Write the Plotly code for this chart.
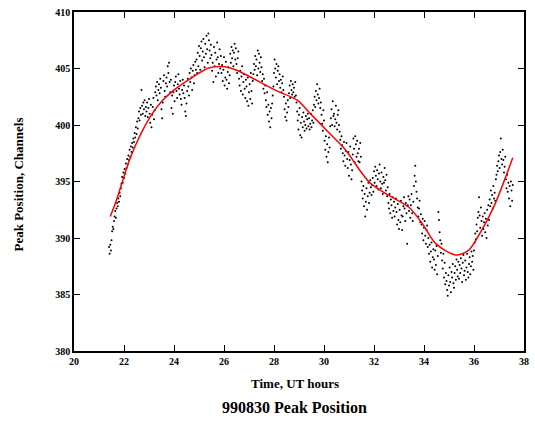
import numpy as np
import plotly.graph_objects as go

# Sampling of the peak-position measurements (regular cadence)
t_start = 21.40
t_step = 0.025

# Peak position values (channels), 20 per half hour
peak_values = [
    389.2, 388.6, 389.4, 388.9, 389.8, 390.6, 391.0, 390.8, 391.5, 391.9, 392.4, 391.8, 392.6, 393.1, 392.8, 393.5, 393.2, 394.0, 393.7, 394.4,
    394.8, 395.4, 394.9, 395.8, 395.3, 396.1, 395.7, 396.6, 396.2, 397.0, 396.5, 397.3, 396.9, 397.8, 397.2, 398.1, 397.6, 398.4, 398.0, 398.8,
    398.5, 399.3, 398.9, 399.8, 399.2, 400.3, 399.7, 400.6, 401.2, 400.4, 401.5, 400.9, 403.1, 401.7, 401.0, 402.0, 401.4, 402.2, 400.8, 401.6,
    401.2, 402.0, 400.7, 401.5, 402.3, 401.0, 400.2, 401.8, 399.8, 400.9, 401.6, 402.4, 400.5, 401.3, 402.9, 403.4, 402.6, 403.8, 402.2, 403.1,
    403.6, 402.8, 404.1, 403.3, 401.4, 400.6, 402.0, 403.9, 404.4, 403.0, 402.5, 403.7, 404.2, 403.4, 405.2, 404.6, 405.5, 403.8, 402.9, 404.0,
    401.5, 402.6, 401.0, 402.9, 403.5, 402.1, 403.8, 404.3, 403.0, 402.4, 403.6, 404.5, 403.2, 402.7, 403.9, 402.3, 401.8, 403.1, 404.0, 402.8,
    403.5, 402.4, 401.2, 400.8, 401.9, 403.0, 404.1, 403.4, 402.6, 404.6, 403.8, 405.0, 404.2, 403.1, 404.8, 405.3, 403.7, 404.4, 405.6, 404.9,
    405.8, 404.6, 406.4, 405.2, 407.0, 406.1, 404.9, 406.8, 407.4, 405.7, 406.5, 407.6, 406.0, 405.1, 407.2, 406.3, 407.9, 406.7, 405.5, 408.1,
    407.5, 406.6, 405.9, 407.1, 406.2, 404.8, 405.5, 403.8, 406.9, 405.2, 406.4, 404.3, 405.8, 407.3, 406.0, 404.6, 405.4, 406.7, 405.0, 406.1,
    404.6, 405.3, 403.9, 404.9, 406.0, 403.5, 404.2, 405.6, 404.0, 403.2, 404.7, 405.1, 403.7, 404.4, 406.3, 405.5, 406.9, 405.9, 406.6, 405.2,
    406.4, 407.2, 405.8, 406.8, 405.4, 404.6, 405.9, 406.5, 404.1, 403.5, 404.8, 403.0, 404.3, 405.2, 402.7, 403.8, 404.5, 403.2, 402.4, 404.0,
    403.4, 402.1, 404.2, 401.7, 402.9, 403.6, 402.3, 404.6, 403.0, 401.9, 403.9, 404.5, 405.4, 404.9, 406.1, 405.2, 405.8, 404.4, 406.6, 405.0,
    406.3, 405.5, 404.7, 406.0, 405.1, 403.9, 404.5, 403.2, 404.1, 402.8, 403.5, 402.2, 401.6, 402.9, 400.9, 401.8, 400.3, 401.2, 399.8, 401.5,
    400.6, 401.9, 402.6, 403.4, 404.6, 405.8, 405.0, 404.2, 405.4, 403.6, 404.8, 405.2, 403.9, 404.5, 403.3, 404.0, 402.9, 403.7, 404.3, 403.1,
    402.5, 401.4, 400.7, 401.9, 400.4, 401.1, 402.2, 401.6, 402.8, 403.5, 402.4, 403.9, 403.1, 402.7, 403.6, 402.9, 403.3, 402.5, 403.8, 402.6,
    402.0, 401.2, 400.4, 399.6, 400.9, 401.5, 399.1, 400.2, 398.9, 400.7, 399.8, 401.1, 400.3, 399.5, 400.0, 400.8, 399.7, 400.5, 401.0, 399.9,
    400.6, 399.6, 400.1, 401.0, 399.8, 400.4, 401.3, 400.2, 401.8, 402.5, 401.6, 403.0, 402.2, 403.6, 402.7, 401.9, 402.4, 403.2, 401.5, 402.0,
    400.9, 400.1, 399.5, 401.3, 400.4, 398.6, 397.8, 399.0, 397.2, 398.3, 396.7, 397.6, 398.9, 398.0, 399.9, 400.6, 401.4, 400.0, 402.1, 400.8,
    401.0, 399.9, 400.5, 401.7, 400.2, 399.6, 400.9, 401.3, 400.0, 399.4, 398.7, 397.9, 399.0, 398.2, 397.5, 396.8, 398.5, 397.3, 396.4, 397.7,
    398.4, 397.0, 396.2, 397.6, 395.5, 396.9, 398.1, 396.5, 395.2, 396.0, 397.4, 398.8, 397.9, 396.7, 399.0, 398.3, 397.2, 398.6, 397.5, 396.8,
    397.9, 396.7, 398.4, 397.2, 395.0, 394.2, 393.5, 394.6, 392.8, 393.9, 391.9, 393.2, 394.4, 392.5, 393.7, 394.9, 393.1, 394.0, 395.1, 394.5,
    393.8, 394.7, 395.3, 394.1, 395.9, 394.9, 396.3, 395.5, 394.6, 396.0, 395.2, 394.3, 395.7, 396.5, 395.0, 394.4, 395.8, 394.8, 393.9, 395.4,
    394.9, 396.2, 395.1, 394.2, 395.6, 393.7, 394.5, 393.1, 392.6, 393.9, 392.2, 393.4, 392.9, 391.8, 393.6, 392.4, 393.2, 391.9, 392.7, 393.5,
    392.3, 391.2, 393.0, 391.6, 390.8, 392.5, 391.4, 393.3, 392.0, 390.7, 391.9, 392.8, 393.6, 392.6, 391.5, 393.1, 392.2, 389.5, 392.9, 393.7,
    392.4, 393.4, 391.8, 392.9, 393.9, 392.2, 391.5, 393.2, 394.6, 395.5, 396.4, 395.0, 394.1, 393.5, 392.7, 391.9, 392.6, 393.3, 391.4, 392.1,
    391.2, 390.4, 391.7, 389.8, 390.9, 391.5, 390.2, 389.5, 390.7, 391.1, 389.2, 390.0, 388.6, 389.4, 387.9, 388.8, 389.6, 387.4, 388.3, 389.0,
    388.1, 387.2, 388.9, 387.6, 389.3, 386.8, 388.4, 392.3, 391.6, 390.5, 389.8, 388.7, 389.5, 388.0, 387.3, 388.6, 386.5, 387.8, 385.9, 386.9,
    386.2, 385.4, 384.9, 386.7, 385.8, 387.4, 386.1, 385.2, 387.0, 386.5, 387.7, 386.0, 385.6, 386.9, 387.5, 386.3, 388.1, 387.2, 386.6, 387.9,
    386.4, 387.6, 386.9, 388.2, 387.3, 386.1, 387.8, 388.5, 386.7, 387.1, 388.0, 386.3, 387.4, 388.6, 387.0, 386.5, 387.7, 388.3, 386.8, 387.5,
    388.8, 387.9, 388.4, 387.2, 388.9, 389.6, 390.4, 389.9, 391.2, 390.6, 391.8, 392.3, 393.6, 392.0, 390.9, 392.7, 391.5, 390.2, 391.9, 390.8,
    391.4, 392.2, 390.5, 391.7, 390.0, 392.5, 391.1, 392.9, 391.6, 393.4, 392.8, 394.2, 393.1, 393.8, 392.6, 394.6, 393.5, 394.0, 393.3, 395.2,
    395.6, 396.4, 395.9, 396.8, 397.3, 396.2, 397.6, 398.8, 397.0, 396.5, 397.8, 396.9, 395.8, 396.3, 397.2, 395.2, 394.4, 395.6, 394.1, 394.9,
    393.5, 394.6, 392.8, 395.0, 394.2, 393.3, 394.7,
]

# Smooth fit curve (red)
fit_t = [21.45, 21.69, 21.95, 22.21, 22.48, 22.74, 23.13, 23.53, 24.06, 24.72, 25.38,
         26.04, 26.56, 27.35, 28.14, 28.93, 29.46, 30.12, 30.78, 31.17, 31.43, 31.83,
         32.49, 33.41, 33.94, 34.47, 35.26, 35.78, 36.31, 36.84, 37.55]
fit_y = [391.9, 393.3, 395.1, 396.85, 398.3, 399.5, 401.0, 402.15, 403.2, 404.2, 405.05,
         405.15, 404.8, 403.9, 403.0, 402.2, 401.0, 399.5, 398.0, 396.85, 396.0, 394.9,
         393.9, 392.7, 391.25, 389.5, 388.5, 388.9, 390.7, 393.0, 397.1]

peak_times = t_start + t_step * np.arange(len(peak_values))

FONT = "Liberation Serif, Times New Roman, serif"

fig = go.Figure()
fig.add_trace(go.Scatter(x=peak_times, y=peak_values, mode="markers",
                         marker=dict(color="black", size=2, line=dict(width=0)),
                         showlegend=False))
fig.add_trace(go.Scatter(x=fit_t, y=fit_y, mode="lines",
                         line=dict(color="red", width=1.5, shape="spline", smoothing=0.8),
                         showlegend=False))

axis_common = dict(showgrid=False, zeroline=False, showline=True, linecolor="black", linewidth=1.5,
                   mirror="ticks", ticks="inside", ticklen=6, tickcolor="black", tickwidth=1,
                   tickfont=dict(family=FONT, size=10, color="black", weight="bold"))

fig.update_xaxes(range=[20, 38], tick0=20, dtick=2, **axis_common)
fig.update_yaxes(range=[380, 410], tick0=380, dtick=5, **axis_common)

fig.update_layout(
    width=535, height=422,
    margin=dict(l=74, r=6, t=11, b=71),
    plot_bgcolor="white", paper_bgcolor="white",
    annotations=[
        dict(text="Time, UT hours", xref="paper", yref="paper", x=0.49, y=-0.097,
             xanchor="center", yanchor="middle", showarrow=False,
             font=dict(family=FONT, size=13, color="black", weight="bold")),
        dict(text="990830 Peak Position", xref="paper", yref="paper", x=0.49, y=-0.168,
             xanchor="center", yanchor="middle", showarrow=False,
             font=dict(family=FONT, size=16, color="black", weight="bold")),
        dict(text="Peak Position, Channels", xref="paper", yref="paper", x=-0.123, y=0.49,
             xanchor="center", yanchor="middle", showarrow=False, textangle=-90,
             font=dict(family=FONT, size=13, color="black", weight="bold")),
    ],
)

fig.write_html("out.html")
